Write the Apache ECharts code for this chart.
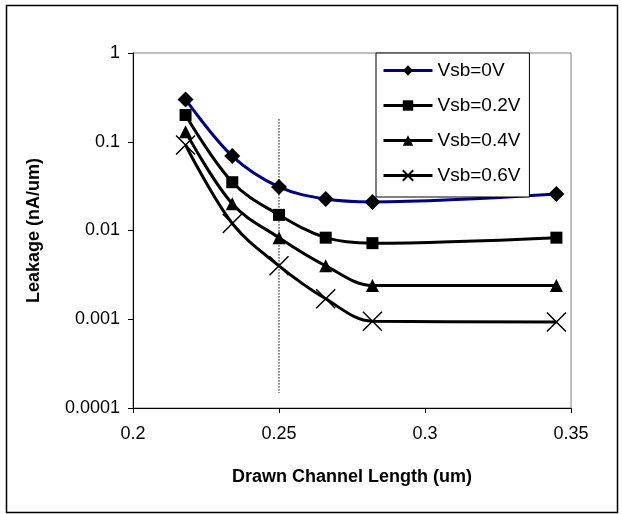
<!DOCTYPE html>
<html><head><meta charset="utf-8">
<script src="https://cdn.jsdelivr.net/npm/echarts@6/dist/echarts.min.js"></script>
<style>html,body{margin:0;padding:0;background:#fff}#c{width:622px;height:514px}</style>
</head><body><div id="c"></div>
<script>
const xValues = [0.218, 0.234, 0.25, 0.266, 0.282, 0.345];
const vsb0  = [0.30, 0.069, 0.031, 0.0226, 0.021, 0.0257];
const vsb02 = [0.20, 0.035, 0.015, 0.0083, 0.0072, 0.0083];
const vsb04 = [0.13, 0.020, 0.0083, 0.0040, 0.0024, 0.0024];
const vsb06 = [0.092, 0.012, 0.0040, 0.0017, 0.00095, 0.00093];
const seriesNames = ['Vsb=0V', 'Vsb=0.2V', 'Vsb=0.4V', 'Vsb=0.6V'];
const refLineX = [0.25, 0.25];
const refLineY = [0.18, 0.000148];
const xTickLabels = ['0.2', '0.25', '0.3', '0.35'];
const yTickValues = [0.0001, 0.001, 0.01, 0.1, 1];
const yTickLabels = ['0.0001', '0.001', '0.01', '0.1', '1'];

const FONT = '"Liberation Sans", Arial, sans-serif';
const pair = ys => xValues.map((x, i) => [x, ys[i]]);
const crossPath = 'path://M0,0L10,10M10,0L0,10';
const lineColors = ['#000080', '#000', '#000', '#000'];

const chart = echarts.init(document.getElementById('c'), null, {renderer: 'canvas'});
const mk = (name, ys, color, symbol, size, extra) => Object.assign({
  name, type: 'line', data: pair(ys), smooth: 0.35,
  symbol, symbolSize: size, showSymbol: true,
  lineStyle: {color, width: 3},
  itemStyle: {color: '#000'},
  emphasis: {disabled: true},
  z: 3
}, extra || {});

chart.setOption({
  animation: false,
  textStyle: {fontFamily: FONT},
  graphic: [{
    type: 'rect', shape: {x: 6.5, y: 5.5, width: 611, height: 507},
    style: {fill: 'none', stroke: '#000', lineWidth: 1.5}, z: 100, silent: true
  }],
  grid: {left: 133, right: 51, top: 53, bottom: 106, show: true, borderColor: '#808080', borderWidth: 1, backgroundColor: 'transparent'},
  legend: {
    orient: 'vertical', left: 376, top: 53,
    backgroundColor: '#fff', borderColor: '#000', borderWidth: 1,
    padding: [8, 9, 12, 6], itemGap: 16, itemWidth: 49, itemHeight: 13,
    textStyle: {fontFamily: FONT, fontSize: 19, color: '#000'},
    data: seriesNames.map((n, i) => ({name: n, lineStyle: {width: 3, color: lineColors[i]}}))
  },
  xAxis: {
    type: 'value', min: 0.2, max: 0.35, interval: 0.05,
    name: 'Drawn Channel Length (um)', nameLocation: 'middle', nameGap: 60,
    nameTextStyle: {fontFamily: FONT, fontSize: 18, fontWeight: 'bold', color: '#000'},
    axisLine: {lineStyle: {color: '#000', width: 1}},
    axisTick: {show: true, inside: false, length: 5, lineStyle: {color: '#000'}},
    axisLabel: {fontFamily: FONT, fontSize: 18, color: '#000', margin: 17,
      formatter: v => { const i = Math.round((v - 0.2) / 0.05); return xTickLabels[i] ?? ''; }},
    splitLine: {show: false}
  },
  yAxis: {
    type: 'log', logBase: 10, min: 0.0001, max: 1,
    name: 'Leakage (nA/um)', nameLocation: 'middle', nameGap: 90,
    nameTextStyle: {fontFamily: FONT, fontSize: 18, fontWeight: 'bold', color: '#000'},
    axisLine: {lineStyle: {color: '#000', width: 1}},
    axisTick: {show: true, inside: false, length: 5, lineStyle: {color: '#000'}},
    axisLabel: {fontFamily: FONT, fontSize: 18, color: '#000', margin: 13,
      formatter: v => { let best = 0, bd = Infinity; yTickValues.forEach((t, i) => { const d = Math.abs(Math.log10(t) - Math.log10(v)); if (d < bd) { bd = d; best = i; } }); return yTickLabels[best]; }},
    splitLine: {show: false}
  },
  series: [
    {type: 'line', name: 'ref', data: refLineX.map((x, i) => [x, refLineY[i]]), symbol: 'none',
     lineStyle: {color: '#000', width: 1, type: [1.5, 1.5]}, z: 1, silent: true},
    mk(seriesNames[0], vsb0, lineColors[0], 'diamond', 16),
    mk(seriesNames[1], vsb02, lineColors[1], 'rect', 12),
    mk(seriesNames[2], vsb04, lineColors[2], 'triangle', 13),
    mk(seriesNames[3], vsb06, lineColors[3], crossPath, 19, {itemStyle: {color: 'none', borderColor: '#000', borderWidth: 1.5}})
  ]
});
</script></body></html>
